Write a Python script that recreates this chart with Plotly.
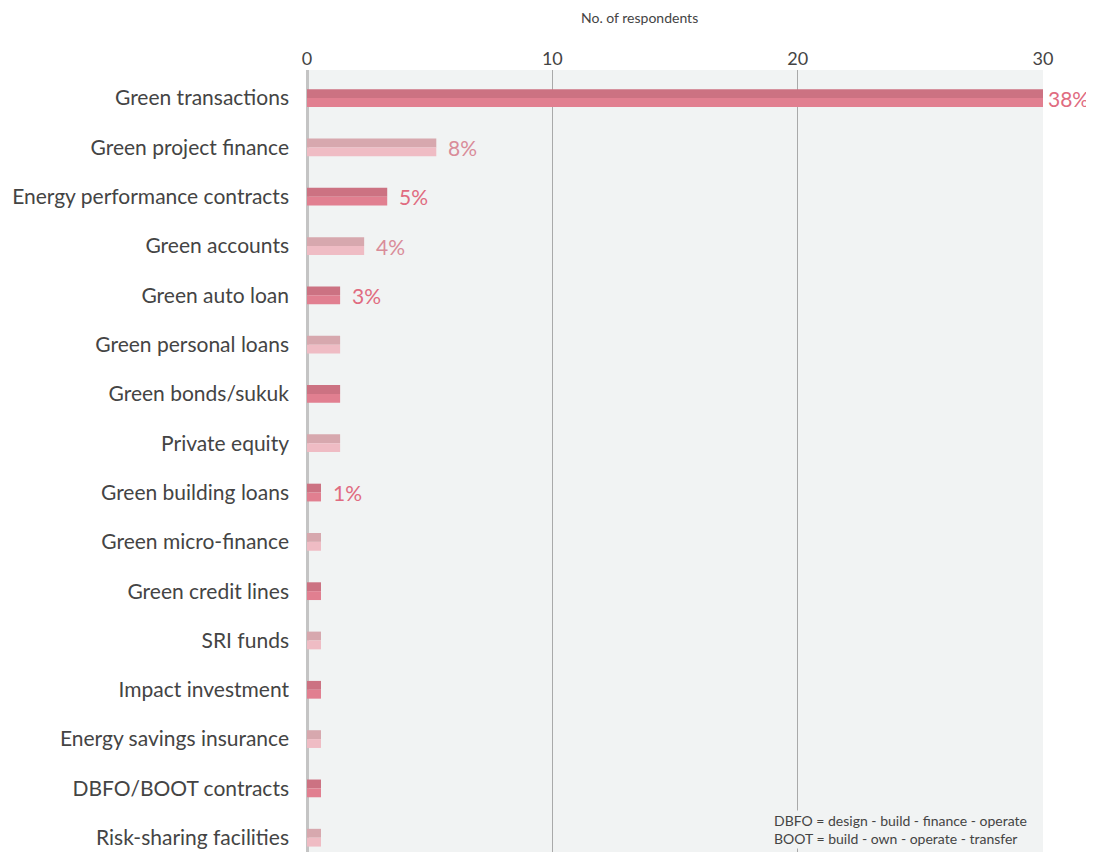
import plotly.graph_objects as go

categories = [
    "Green transactions", "Green project finance", "Energy performance contracts",
    "Green accounts", "Green auto loan", "Green personal loans", "Green bonds/sukuk",
    "Private equity", "Green building loans", "Green micro-finance", "Green credit lines",
    "SRI funds", "Impact investment", "Energy savings insurance", "DBFO/BOOT contracts",
    "Risk-sharing facilities",
]
values = [30, 5.27, 3.27, 2.33, 1.35, 1.35, 1.35, 1.35, 0.57, 0.57, 0.57, 0.57, 0.57, 0.57, 0.57, 0.57]
pct_labels = ["38%", "8%", "5%", "4%", "3%", "", "", "", "1%", "", "", "", "", "", "", ""]
tick_vals = [0, 10, 20, 30]

FONT = "Lato"
dark_top, dark_bot = "#cc7282", "#e17f90"
light_top, light_bot = "#d7a8ae", "#efbcc4"
dark_txt, light_txt = "#e06b80", "#d98c99"

is_dark = [i % 2 == 0 for i in range(len(categories))]
top_cols = [dark_top if d else light_top for d in is_dark]
bot_cols = [dark_bot if d else light_bot for d in is_dark]

fig = go.Figure()
fig.add_trace(go.Bar(y=categories, x=values, orientation="h", width=0.18, offset=-0.18,
                     marker=dict(color=top_cols, line=dict(width=0)), hoverinfo="skip"))
fig.add_trace(go.Bar(y=categories, x=values, orientation="h", width=0.18, offset=0.0,
                     marker=dict(color=bot_cols, line=dict(width=0)), hoverinfo="x+y"))

for i, (cat, v, lab, d) in enumerate(zip(categories, values, pct_labels, is_dark)):
    if lab:
        fig.add_annotation(x=v, y=cat, xref="x", yref="y", text=lab, showarrow=False,
                           xanchor="left", yanchor="middle", xshift=3 if i == 0 else 10, yshift=0,
                           font=dict(family=FONT, size=21, color=dark_txt if d else light_txt))

fig.add_annotation(x=13.55, y=1, xref="x", yref="paper", yanchor="bottom", yshift=42,
                   text="No. of respondents", showarrow=False,
                   font=dict(family=FONT, size=14, color="#444444"))
fig.add_annotation(x=18.95, y=0, xref="x", yref="paper", xanchor="left", yanchor="bottom",
                   yshift=3, align="left", showarrow=False, bgcolor="#f1f3f3",
                   text="DBFO = design - build - finance - operate<br>BOOT = build - own - operate - transfer",
                   font=dict(family=FONT, size=14, color="#444444"))

fig.update_layout(
    width=1086, height=844,
    margin=dict(l=299, r=51, t=62, b=0),
    paper_bgcolor="white", plot_bgcolor="#f1f3f3",
    barmode="overlay", showlegend=False,
    font=dict(family=FONT, color="#444444"),
)
fig.update_xaxes(side="top", range=[0, 30], tickvals=tick_vals, showgrid=True,
                 gridcolor="#a9a9a9", gridwidth=1, zeroline=True, zerolinecolor="#c4c4c4",
                 zerolinewidth=3, showline=False, ticks="", automargin=False,
                 tickfont=dict(family=FONT, size=18, color="#444444"))
fig.update_yaxes(range=[15.29, -0.57], showgrid=False, ticks="", ticklabelstandoff=17,
                 automargin=False,
                 tickfont=dict(family=FONT, size=21, color="#444444"))

fig.write_html("out.html")
